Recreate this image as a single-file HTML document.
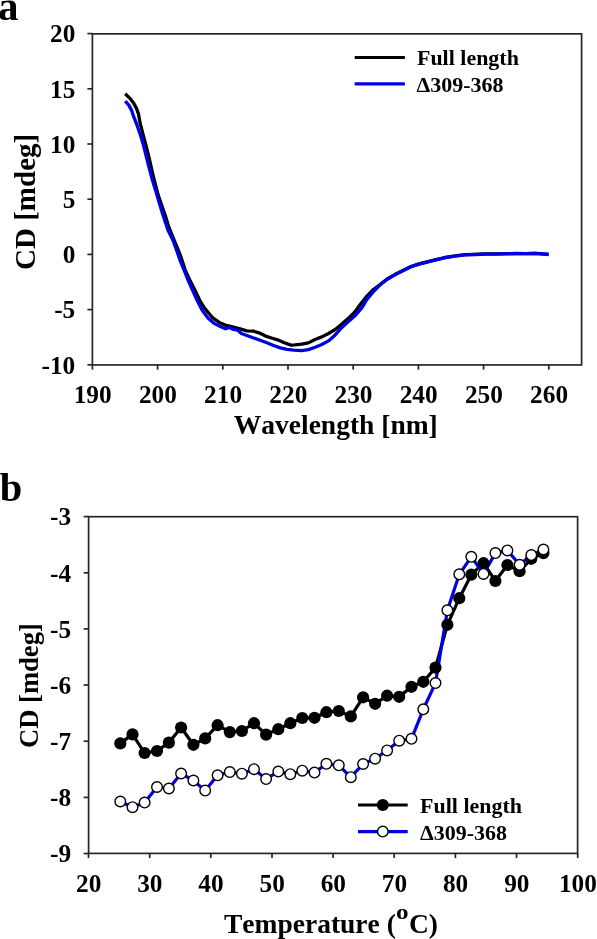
<!DOCTYPE html><html><head><meta charset="utf-8"><style>html,body{margin:0;padding:0;background:#fff;}svg{display:block;}svg{will-change:transform;}text{font-family:"Liberation Serif",serif;font-weight:bold;fill:#000;font-kerning:none;font-feature-settings:"kern" 0;}</style></head><body>
<svg width="597" height="939" viewBox="0 0 597 939">
<rect width="597" height="939" fill="#fff"/>
<text x="-2" y="19.6" font-size="41">a</text>
<rect x="92.4" y="33.85" width="489.2" height="331.1" fill="none" stroke="#262626" stroke-width="1.7"/>
<line x1="87.4" y1="364.8" x2="92.4" y2="364.8" stroke="#262626" stroke-width="1.7"/>
<text transform="translate(75.3,373.5) scale(1.03,1)" font-size="24.6" text-anchor="end">-10</text>
<line x1="87.4" y1="309.6" x2="92.4" y2="309.6" stroke="#262626" stroke-width="1.7"/>
<text transform="translate(75.3,318.3) scale(1.03,1)" font-size="24.6" text-anchor="end">-5</text>
<line x1="87.4" y1="254.4" x2="92.4" y2="254.4" stroke="#262626" stroke-width="1.7"/>
<text transform="translate(75.3,263.1) scale(1.03,1)" font-size="24.6" text-anchor="end">0</text>
<line x1="87.4" y1="199.2" x2="92.4" y2="199.2" stroke="#262626" stroke-width="1.7"/>
<text transform="translate(75.3,207.9) scale(1.03,1)" font-size="24.6" text-anchor="end">5</text>
<line x1="87.4" y1="144.0" x2="92.4" y2="144.0" stroke="#262626" stroke-width="1.7"/>
<text transform="translate(75.3,152.7) scale(1.03,1)" font-size="24.6" text-anchor="end">10</text>
<line x1="87.4" y1="88.8" x2="92.4" y2="88.8" stroke="#262626" stroke-width="1.7"/>
<text transform="translate(75.3,97.5) scale(1.03,1)" font-size="24.6" text-anchor="end">15</text>
<line x1="87.4" y1="33.6" x2="92.4" y2="33.6" stroke="#262626" stroke-width="1.7"/>
<text transform="translate(75.3,42.3) scale(1.03,1)" font-size="24.6" text-anchor="end">20</text>
<line x1="92.4" y1="365.0" x2="92.4" y2="369.7" stroke="#262626" stroke-width="1.7"/>
<text transform="translate(92.7,403) scale(1.03,1)" font-size="24.6" text-anchor="middle">190</text>
<line x1="157.6" y1="365.0" x2="157.6" y2="369.7" stroke="#262626" stroke-width="1.7"/>
<text transform="translate(157.9,403) scale(1.03,1)" font-size="24.6" text-anchor="middle">200</text>
<line x1="222.8" y1="365.0" x2="222.8" y2="369.7" stroke="#262626" stroke-width="1.7"/>
<text transform="translate(223.1,403) scale(1.03,1)" font-size="24.6" text-anchor="middle">210</text>
<line x1="288.0" y1="365.0" x2="288.0" y2="369.7" stroke="#262626" stroke-width="1.7"/>
<text transform="translate(288.3,403) scale(1.03,1)" font-size="24.6" text-anchor="middle">220</text>
<line x1="353.2" y1="365.0" x2="353.2" y2="369.7" stroke="#262626" stroke-width="1.7"/>
<text transform="translate(353.5,403) scale(1.03,1)" font-size="24.6" text-anchor="middle">230</text>
<line x1="418.4" y1="365.0" x2="418.4" y2="369.7" stroke="#262626" stroke-width="1.7"/>
<text transform="translate(418.7,403) scale(1.03,1)" font-size="24.6" text-anchor="middle">240</text>
<line x1="483.6" y1="365.0" x2="483.6" y2="369.7" stroke="#262626" stroke-width="1.7"/>
<text transform="translate(483.9,403) scale(1.03,1)" font-size="24.6" text-anchor="middle">250</text>
<line x1="548.8" y1="365.0" x2="548.8" y2="369.7" stroke="#262626" stroke-width="1.7"/>
<text transform="translate(549.1,403) scale(1.03,1)" font-size="24.6" text-anchor="middle">260</text>
<text x="335.8" y="434" font-size="27.5" text-anchor="middle">Wavelength [nm]</text>
<text transform="translate(34.8,201.9) rotate(-90)" font-size="29" text-anchor="middle">CD [mdeg]</text>
<polyline points="125.2,93.8 129.7,98.1 133.6,103.1 136.6,108.6 138.5,114.1 140.1,123.2 142.7,133.2 145.4,143.3 148.3,154.3 150.8,165.4 152.6,173.4 154.2,180.0 158.2,195.1 161.7,205.2 165.2,215.2 168.2,225.3 172.2,235.3 176.3,245.4 180.8,256.4 185.2,270.1 189.9,280.2 195.0,290.2 199.7,300.3 204.7,308.3 212.2,317.3 219.2,322.4 226.3,325.4 233.4,327.2 240.1,328.8 246.8,330.8 253.5,331.2 258.9,332.8 265.6,336.1 272.3,338.2 277.6,339.8 284.3,342.8 291.0,345.1 295.0,344.9 301.7,344.2 308.4,342.9 315.1,339.5 321.8,336.9 328.5,333.5 335.2,329.5 341.9,324.1 348.6,318.1 355.3,311.4 360.0,304.8 366.7,296.4 373.4,289.5 380.1,284.5 386.8,279.3 394.9,274.6 402.9,270.6 410.9,266.6 419.0,263.9 427.0,261.9 435.1,259.9 445.1,257.5 455.1,255.9 465.2,254.7 475.2,254.3 485.3,253.9 495.3,253.9 505.4,253.9 515.4,253.5 525.5,253.7 535.5,253.3 548.6,254.3" fill="none" stroke="#000" stroke-width="3.3" stroke-linejoin="round" stroke-linecap="butt"/>
<polyline points="125.2,101.1 128.8,105.1 131.5,110.1 133.5,116.2 137.0,125.2 140.5,135.3 143.5,145.3 146.0,155.4 148.5,165.4 150.6,173.4 152.4,180.0 155.5,190.1 158.5,200.2 161.5,210.2 164.7,220.3 168.0,230.3 173.1,240.4 176.5,250.0 180.0,260.1 184.1,270.1 188.1,280.2 192.6,290.2 197.1,300.3 202.2,310.3 208.2,318.3 214.2,323.4 220.3,326.6 225.4,328.8 229.4,327.4 233.4,329.4 237.4,330.1 241.4,333.5 246.8,335.5 252.2,337.5 260.2,340.2 266.9,342.8 273.6,345.5 280.3,347.9 287.0,349.3 293.7,350.2 301.7,350.7 308.4,349.6 315.1,347.2 321.8,344.5 328.5,340.9 335.2,334.9 341.9,327.5 348.6,321.4 355.3,315.4 362.0,307.6 366.7,299.6 373.4,291.6 380.1,284.9 386.8,279.5 394.9,274.8 402.9,270.8 410.9,266.8 419.0,264.1 427.0,262.1 435.1,260.1 445.1,257.7 455.1,256.1 465.2,254.9 475.2,254.5 485.3,254.1 495.3,254.1 505.4,253.7 515.4,253.7 525.5,253.7 535.5,253.3 548.6,254.5" fill="none" stroke="#0000e6" stroke-width="3.3" stroke-linejoin="round" stroke-linecap="butt"/>
<line x1="354.7" y1="57.4" x2="404.9" y2="57.4" stroke="#000" stroke-width="3"/>
<line x1="354.7" y1="83.8" x2="404.9" y2="83.8" stroke="#0000e6" stroke-width="3.2"/>
<text transform="translate(417,64.6) scale(1.022,1)" font-size="21.5">Full length</text>
<text transform="translate(416.5,92.2) scale(1.022,1)" font-size="21.5">&#916;309-368</text>
<text x="-0.3" y="501.2" font-size="40.5">b</text>
<rect x="88.6" y="516.7" width="489.0" height="336.7" fill="none" stroke="#262626" stroke-width="1.7"/>
<line x1="83.6" y1="853.5" x2="88.6" y2="853.5" stroke="#262626" stroke-width="1.7"/>
<text transform="translate(71.2,862.2) scale(1.03,1)" font-size="24.6" text-anchor="end">-9</text>
<line x1="83.6" y1="797.4" x2="88.6" y2="797.4" stroke="#262626" stroke-width="1.7"/>
<text transform="translate(71.2,806.1) scale(1.03,1)" font-size="24.6" text-anchor="end">-8</text>
<line x1="83.6" y1="741.2" x2="88.6" y2="741.2" stroke="#262626" stroke-width="1.7"/>
<text transform="translate(71.2,749.9) scale(1.03,1)" font-size="24.6" text-anchor="end">-7</text>
<line x1="83.6" y1="685.0" x2="88.6" y2="685.0" stroke="#262626" stroke-width="1.7"/>
<text transform="translate(71.2,693.8) scale(1.03,1)" font-size="24.6" text-anchor="end">-6</text>
<line x1="83.6" y1="628.9" x2="88.6" y2="628.9" stroke="#262626" stroke-width="1.7"/>
<text transform="translate(71.2,637.6) scale(1.03,1)" font-size="24.6" text-anchor="end">-5</text>
<line x1="83.6" y1="572.8" x2="88.6" y2="572.8" stroke="#262626" stroke-width="1.7"/>
<text transform="translate(71.2,581.5) scale(1.03,1)" font-size="24.6" text-anchor="end">-4</text>
<line x1="83.6" y1="516.6" x2="88.6" y2="516.6" stroke="#262626" stroke-width="1.7"/>
<text transform="translate(71.2,525.3) scale(1.03,1)" font-size="24.6" text-anchor="end">-3</text>
<line x1="88.5" y1="853.4" x2="88.5" y2="858.1" stroke="#262626" stroke-width="1.7"/>
<text transform="translate(88.7,892.2) scale(1.03,1)" font-size="24.6" text-anchor="middle">20</text>
<line x1="149.7" y1="853.4" x2="149.7" y2="858.1" stroke="#262626" stroke-width="1.7"/>
<text transform="translate(149.8,892.2) scale(1.03,1)" font-size="24.6" text-anchor="middle">30</text>
<line x1="210.8" y1="853.4" x2="210.8" y2="858.1" stroke="#262626" stroke-width="1.7"/>
<text transform="translate(211.0,892.2) scale(1.03,1)" font-size="24.6" text-anchor="middle">40</text>
<line x1="272.0" y1="853.4" x2="272.0" y2="858.1" stroke="#262626" stroke-width="1.7"/>
<text transform="translate(272.2,892.2) scale(1.03,1)" font-size="24.6" text-anchor="middle">50</text>
<line x1="333.1" y1="853.4" x2="333.1" y2="858.1" stroke="#262626" stroke-width="1.7"/>
<text transform="translate(333.3,892.2) scale(1.03,1)" font-size="24.6" text-anchor="middle">60</text>
<line x1="394.2" y1="853.4" x2="394.2" y2="858.1" stroke="#262626" stroke-width="1.7"/>
<text transform="translate(394.4,892.2) scale(1.03,1)" font-size="24.6" text-anchor="middle">70</text>
<line x1="455.4" y1="853.4" x2="455.4" y2="858.1" stroke="#262626" stroke-width="1.7"/>
<text transform="translate(455.6,892.2) scale(1.03,1)" font-size="24.6" text-anchor="middle">80</text>
<line x1="516.5" y1="853.4" x2="516.5" y2="858.1" stroke="#262626" stroke-width="1.7"/>
<text transform="translate(516.8,892.2) scale(1.03,1)" font-size="24.6" text-anchor="middle">90</text>
<line x1="577.7" y1="853.4" x2="577.7" y2="858.1" stroke="#262626" stroke-width="1.7"/>
<text transform="translate(577.9,892.2) scale(1.03,1)" font-size="24.6" text-anchor="middle">100</text>
<text x="224" y="933.2" font-size="27.5">Temperature (</text>
<text transform="translate(396,919.2) scale(1.2,1)" font-size="21">o</text>
<text x="409" y="933.2" font-size="27.5">C)</text>
<text transform="translate(38.2,685.6) rotate(-90)" font-size="26.6" text-anchor="middle">CD [mdeg]</text>
<polyline points="120.3,743.4 132.5,734.4 144.6,753.0 157.0,751.0 168.9,742.6 181.1,727.5 193.4,744.8 205.2,738.4 217.6,725.2 229.8,732.1 241.9,731.0 254.0,723.2 266.1,734.6 278.3,729.2 290.3,723.2 302.3,718.0 314.5,717.8 326.4,712.2 338.8,711.0 350.8,716.4 363.1,697.3 375.1,703.8 387.1,695.7 399.2,696.8 411.5,686.8 423.3,681.8 435.5,667.6 447.4,624.8 459.3,598.2 471.3,574.7 483.5,563.2 495.4,581.0 507.4,565.0 519.6,571.2 531.3,558.8 543.4,553.1" fill="none" stroke="#000" stroke-width="3.2" stroke-linejoin="round"/>
<polyline points="120.3,801.5 132.5,807.2 144.6,802.6 157.0,787.0 168.9,788.5 181.1,773.5 193.4,780.5 205.2,790.6 217.6,775.3 229.8,772.1 241.9,773.7 254.0,769.2 266.1,779.1 278.3,771.5 290.3,774.2 302.3,770.7 314.5,772.6 326.4,763.8 338.8,765.3 350.8,777.2 363.1,764.0 375.1,758.7 387.1,750.4 399.2,740.7 411.5,738.8 423.3,709.3 435.5,683.1 447.4,610.3 459.3,574.3 471.3,556.8 483.5,573.9 495.4,553.1 507.4,550.4 519.6,564.8 531.3,555.1 543.4,549.5" fill="none" stroke="#0000e6" stroke-width="3.2" stroke-linejoin="round"/>
<circle cx="120.3" cy="743.4" r="6.1" fill="#000"/>
<circle cx="132.5" cy="734.4" r="6.1" fill="#000"/>
<circle cx="144.6" cy="753.0" r="6.1" fill="#000"/>
<circle cx="157.0" cy="751.0" r="6.1" fill="#000"/>
<circle cx="168.9" cy="742.6" r="6.1" fill="#000"/>
<circle cx="181.1" cy="727.5" r="6.1" fill="#000"/>
<circle cx="193.4" cy="744.8" r="6.1" fill="#000"/>
<circle cx="205.2" cy="738.4" r="6.1" fill="#000"/>
<circle cx="217.6" cy="725.2" r="6.1" fill="#000"/>
<circle cx="229.8" cy="732.1" r="6.1" fill="#000"/>
<circle cx="241.9" cy="731.0" r="6.1" fill="#000"/>
<circle cx="254.0" cy="723.2" r="6.1" fill="#000"/>
<circle cx="266.1" cy="734.6" r="6.1" fill="#000"/>
<circle cx="278.3" cy="729.2" r="6.1" fill="#000"/>
<circle cx="290.3" cy="723.2" r="6.1" fill="#000"/>
<circle cx="302.3" cy="718.0" r="6.1" fill="#000"/>
<circle cx="314.5" cy="717.8" r="6.1" fill="#000"/>
<circle cx="326.4" cy="712.2" r="6.1" fill="#000"/>
<circle cx="338.8" cy="711.0" r="6.1" fill="#000"/>
<circle cx="350.8" cy="716.4" r="6.1" fill="#000"/>
<circle cx="363.1" cy="697.3" r="6.1" fill="#000"/>
<circle cx="375.1" cy="703.8" r="6.1" fill="#000"/>
<circle cx="387.1" cy="695.7" r="6.1" fill="#000"/>
<circle cx="399.2" cy="696.8" r="6.1" fill="#000"/>
<circle cx="411.5" cy="686.8" r="6.1" fill="#000"/>
<circle cx="423.3" cy="681.8" r="6.1" fill="#000"/>
<circle cx="435.5" cy="667.6" r="6.1" fill="#000"/>
<circle cx="447.4" cy="624.8" r="6.1" fill="#000"/>
<circle cx="459.3" cy="598.2" r="6.1" fill="#000"/>
<circle cx="471.3" cy="574.7" r="6.1" fill="#000"/>
<circle cx="483.5" cy="563.2" r="6.1" fill="#000"/>
<circle cx="495.4" cy="581.0" r="6.1" fill="#000"/>
<circle cx="507.4" cy="565.0" r="6.1" fill="#000"/>
<circle cx="519.6" cy="571.2" r="6.1" fill="#000"/>
<circle cx="531.3" cy="558.8" r="6.1" fill="#000"/>
<circle cx="543.4" cy="553.1" r="6.1" fill="#000"/>
<circle cx="120.3" cy="801.5" r="5.3" fill="#fff" stroke="#000" stroke-width="1.4"/>
<circle cx="132.5" cy="807.2" r="5.3" fill="#fff" stroke="#000" stroke-width="1.4"/>
<circle cx="144.6" cy="802.6" r="5.3" fill="#fff" stroke="#000" stroke-width="1.4"/>
<circle cx="157.0" cy="787.0" r="5.3" fill="#fff" stroke="#000" stroke-width="1.4"/>
<circle cx="168.9" cy="788.5" r="5.3" fill="#fff" stroke="#000" stroke-width="1.4"/>
<circle cx="181.1" cy="773.5" r="5.3" fill="#fff" stroke="#000" stroke-width="1.4"/>
<circle cx="193.4" cy="780.5" r="5.3" fill="#fff" stroke="#000" stroke-width="1.4"/>
<circle cx="205.2" cy="790.6" r="5.3" fill="#fff" stroke="#000" stroke-width="1.4"/>
<circle cx="217.6" cy="775.3" r="5.3" fill="#fff" stroke="#000" stroke-width="1.4"/>
<circle cx="229.8" cy="772.1" r="5.3" fill="#fff" stroke="#000" stroke-width="1.4"/>
<circle cx="241.9" cy="773.7" r="5.3" fill="#fff" stroke="#000" stroke-width="1.4"/>
<circle cx="254.0" cy="769.2" r="5.3" fill="#fff" stroke="#000" stroke-width="1.4"/>
<circle cx="266.1" cy="779.1" r="5.3" fill="#fff" stroke="#000" stroke-width="1.4"/>
<circle cx="278.3" cy="771.5" r="5.3" fill="#fff" stroke="#000" stroke-width="1.4"/>
<circle cx="290.3" cy="774.2" r="5.3" fill="#fff" stroke="#000" stroke-width="1.4"/>
<circle cx="302.3" cy="770.7" r="5.3" fill="#fff" stroke="#000" stroke-width="1.4"/>
<circle cx="314.5" cy="772.6" r="5.3" fill="#fff" stroke="#000" stroke-width="1.4"/>
<circle cx="326.4" cy="763.8" r="5.3" fill="#fff" stroke="#000" stroke-width="1.4"/>
<circle cx="338.8" cy="765.3" r="5.3" fill="#fff" stroke="#000" stroke-width="1.4"/>
<circle cx="350.8" cy="777.2" r="5.3" fill="#fff" stroke="#000" stroke-width="1.4"/>
<circle cx="363.1" cy="764.0" r="5.3" fill="#fff" stroke="#000" stroke-width="1.4"/>
<circle cx="375.1" cy="758.7" r="5.3" fill="#fff" stroke="#000" stroke-width="1.4"/>
<circle cx="387.1" cy="750.4" r="5.3" fill="#fff" stroke="#000" stroke-width="1.4"/>
<circle cx="399.2" cy="740.7" r="5.3" fill="#fff" stroke="#000" stroke-width="1.4"/>
<circle cx="411.5" cy="738.8" r="5.3" fill="#fff" stroke="#000" stroke-width="1.4"/>
<circle cx="423.3" cy="709.3" r="5.3" fill="#fff" stroke="#000" stroke-width="1.4"/>
<circle cx="435.5" cy="683.1" r="5.3" fill="#fff" stroke="#000" stroke-width="1.4"/>
<circle cx="447.4" cy="610.3" r="5.3" fill="#fff" stroke="#000" stroke-width="1.4"/>
<circle cx="459.3" cy="574.3" r="5.3" fill="#fff" stroke="#000" stroke-width="1.4"/>
<circle cx="471.3" cy="556.8" r="5.3" fill="#fff" stroke="#000" stroke-width="1.4"/>
<circle cx="483.5" cy="573.9" r="5.3" fill="#fff" stroke="#000" stroke-width="1.4"/>
<circle cx="495.4" cy="553.1" r="5.3" fill="#fff" stroke="#000" stroke-width="1.4"/>
<circle cx="507.4" cy="550.4" r="5.3" fill="#fff" stroke="#000" stroke-width="1.4"/>
<circle cx="519.6" cy="564.8" r="5.3" fill="#fff" stroke="#000" stroke-width="1.4"/>
<circle cx="531.3" cy="555.1" r="5.3" fill="#fff" stroke="#000" stroke-width="1.4"/>
<circle cx="543.4" cy="549.5" r="5.3" fill="#fff" stroke="#000" stroke-width="1.4"/>
<line x1="358" y1="805" x2="407.7" y2="805" stroke="#000" stroke-width="3.2"/>
<circle cx="382.8" cy="805" r="6.1" fill="#000"/>
<line x1="358" y1="831.6" x2="407.7" y2="831.6" stroke="#0000e6" stroke-width="3.2"/>
<circle cx="382.8" cy="831.6" r="5.3" fill="#fff" stroke="#000" stroke-width="1.4"/>
<text transform="translate(420.1,812.6) scale(1.022,1)" font-size="21.5">Full length</text>
<text transform="translate(420,840.2) scale(1.022,1)" font-size="21.5">&#916;309-368</text>
</svg></body></html>
